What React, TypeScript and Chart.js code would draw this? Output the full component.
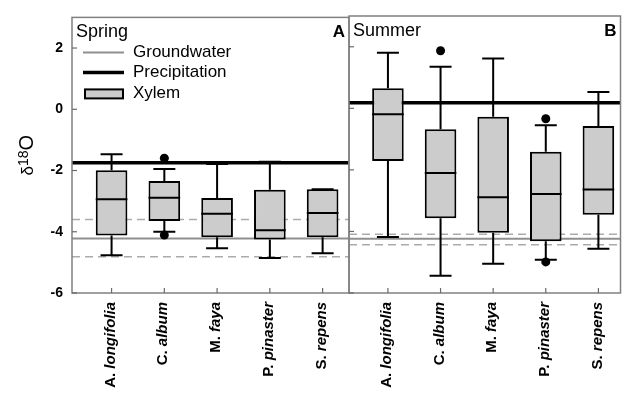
import React, { useEffect, useRef } from "react";
import { Chart, registerables } from "chart.js";

Chart.register(...registerables);

// ---------- data ----------
const categories = ["A. longifolia", "C. album", "M. faya", "P. pinaster", "S. repens"];
const yTickValues = [-6, -4, -2, 0, 2];
const legendLabels = ["Groundwater", "Precipitation", "Xylem"];
const yAxisLabel = ["δ", "18", "O"];

// Spring (panel A)
const springLow = [-4.77, -4.0, -4.54, -4.86, -4.7];
const springQ1 = [-4.12, -3.65, -4.18, -4.25, -4.18];
const springMedian = [-2.94, -2.89, -3.41, -3.95, -3.39];
const springQ3 = [-1.99, -2.34, -2.9, -2.63, -2.61];
const springHigh = [-1.47, -1.95, -1.79, -1.71, -2.61];
const springOutlierCat = [2, 2];
const springOutlierVal = [-1.6, -4.11];
const springGroundwater = -4.22;
const springGroundwaterRange = [-3.6, -4.82];
const springPrecipitation = -1.75;

// Summer (panel B)
const summerLow = [-4.18, -5.44, -5.05, -4.92, -4.56];
const summerQ1 = [-1.71, -3.57, -4.04, -4.32, -3.46];
const summerMedian = [-0.19, -2.1, -2.89, -2.78, -2.64];
const summerQ3 = [0.65, -0.68, -0.27, -1.41, -0.57];
const summerHigh = [1.81, 1.35, 1.62, -0.55, 0.53];
const summerOutlierCat = [2, 4, 4];
const summerOutlierVal = [1.87, -0.34, -4.99];
const summerGroundwater = -4.24;
const summerGroundwaterRange = [-4.09, -4.43];
const summerPrecipitation = 0.18;

const FONT = "'Liberation Sans', Arial, Helvetica, sans-serif";

type Season = {
  title: string;
  letter: string;
  low: number[];
  q1: number[];
  med: number[];
  q3: number[];
  high: number[];
  outCat: number[];
  outVal: number[];
  gw: number;
  gwRange: number[];
  precip: number;
  xMin: number;
  xMax: number;
  padding: { left: number; right: number; top: number; bottom: number };
  first: boolean;
};

const spring: Season = {
  title: "Spring",
  letter: "A",
  low: springLow,
  q1: springQ1,
  med: springMedian,
  q3: springQ3,
  high: springHigh,
  outCat: springOutlierCat,
  outVal: springOutlierVal,
  gw: springGroundwater,
  gwRange: springGroundwaterRange,
  precip: springPrecipitation,
  xMin: 0.25,
  xMax: 5.5,
  padding: { left: 0, right: 276, top: 16, bottom: 103 },
  first: true,
};

const summer: Season = {
  title: "Summer",
  letter: "B",
  low: summerLow,
  q1: summerQ1,
  med: summerMedian,
  q3: summerQ3,
  high: summerHigh,
  outCat: summerOutlierCat,
  outVal: summerOutlierVal,
  gw: summerGroundwater,
  gwRange: summerGroundwaterRange,
  precip: summerPrecipitation,
  xMin: 0.26,
  xMax: 5.42,
  padding: { left: 349, right: 2, top: 16, bottom: 103 },
  first: false,
};

function hline(ctx: CanvasRenderingContext2D, x1: number, x2: number, y: number) {
  ctx.beginPath();
  ctx.moveTo(x1, y);
  ctx.lineTo(x2, y);
  ctx.stroke();
}

function makePlugin(s: Season) {
  return {
    id: "boxplot" + s.letter,
    beforeDatasetsDraw(chart: any) {
      const { ctx, chartArea: a, scales } = chart;
      const y = scales.y;
      ctx.save();
      ctx.beginPath();
      ctx.rect(a.left, a.top, a.right - a.left, a.bottom - a.top);
      ctx.clip();
      ctx.strokeStyle = "#ababab";
      ctx.lineWidth = 1.5;
      ctx.setLineDash([8, 5]);
      for (const v of s.gwRange) hline(ctx, a.left, a.right, y.getPixelForValue(v));
      ctx.setLineDash([]);
      ctx.strokeStyle = "#8f8f8f";
      ctx.lineWidth = 2;
      hline(ctx, a.left, a.right, y.getPixelForValue(s.gw));
      ctx.strokeStyle = "#000";
      ctx.lineWidth = 3.5;
      hline(ctx, a.left, a.right, y.getPixelForValue(s.precip));
      ctx.restore();
    },
    afterDatasetsDraw(chart: any) {
      const { ctx } = chart;
      const y = chart.scales.y;
      const meta = chart.getDatasetMeta(0);
      ctx.save();
      ctx.strokeStyle = "#000";
      ctx.lineWidth = 2;
      meta.data.forEach((el: any, i: number) => {
        const cx = el.x;
        const hw = el.width / 2;
        const cap = 11;
        const pHigh = y.getPixelForValue(s.high[i]);
        const pQ3 = y.getPixelForValue(s.q3[i]);
        const pQ1 = y.getPixelForValue(s.q1[i]);
        const pLow = y.getPixelForValue(s.low[i]);
        const pMed = y.getPixelForValue(s.med[i]);
        ctx.beginPath();
        ctx.moveTo(cx, pQ3);
        ctx.lineTo(cx, pHigh);
        ctx.moveTo(cx - cap, pHigh);
        ctx.lineTo(cx + cap, pHigh);
        ctx.moveTo(cx, pQ1);
        ctx.lineTo(cx, pLow);
        ctx.moveTo(cx - cap, pLow);
        ctx.lineTo(cx + cap, pLow);
        ctx.moveTo(cx - hw, pMed);
        ctx.lineTo(cx + hw, pMed);
        ctx.stroke();
      });
      ctx.restore();
    },
    afterDraw(chart: any) {
      const { ctx, chartArea: a } = chart;
      const x = chart.scales.x;
      const y = chart.scales.y;
      ctx.save();
      // frame
      ctx.strokeStyle = "#808080";
      ctx.lineWidth = 1.5;
      ctx.strokeRect(a.left, a.top, a.right - a.left, a.bottom - a.top);
      // ticks (inward)
      ctx.strokeStyle = "#6a6a6a";
      ctx.lineWidth = 1.2;
      for (const v of yTickValues) {
        const py = y.getPixelForValue(v);
        hline(ctx, a.left, a.left + 5, py);
      }
      categories.forEach((_, i) => {
        const px = x.getPixelForValue(i + 1);
        ctx.beginPath();
        ctx.moveTo(px, a.bottom);
        ctx.lineTo(px, a.bottom - 5);
        ctx.stroke();
      });
      // category labels (rotated, mixed style)
      ctx.fillStyle = "#000";
      ctx.textBaseline = "middle";
      ctx.textAlign = "left";
      categories.forEach((c, i) => {
        const px = x.getPixelForValue(i + 1);
        const dot = c.indexOf(". ");
        const pre = c.slice(0, dot + 1) + " ";
        const post = c.slice(dot + 2);
        ctx.font = `bold 15px ${FONT}`;
        const wPre = ctx.measureText(pre).width;
        ctx.font = `italic bold 15px ${FONT}`;
        const wPost = ctx.measureText(post).width;
        const total = wPre + wPost;
        ctx.save();
        ctx.translate(px - 1, a.bottom + 9);
        ctx.rotate(-Math.PI / 2);
        ctx.font = `bold 15px ${FONT}`;
        ctx.fillText(pre, -total, 0);
        ctx.font = `italic bold 15px ${FONT}`;
        ctx.fillText(post, -total + wPre, 0);
        ctx.restore();
      });
      // panel titles
      ctx.textBaseline = "alphabetic";
      ctx.font = `18px ${FONT}`;
      ctx.textAlign = "left";
      ctx.fillText(s.title, a.left + 4, a.top + 20);
      ctx.font = `bold 17px ${FONT}`;
      ctx.textAlign = "right";
      ctx.fillText(s.letter, a.right - 4, a.top + 20);

      if (s.first) {
        // legend
        ctx.textAlign = "left";
        ctx.textBaseline = "middle";
        ctx.font = `17px ${FONT}`;
        const lx1 = a.left + 11;
        const lx2 = a.left + 52;
        const tx = a.left + 61;
        const rows = [a.top + 35, a.top + 55, a.top + 76];
        ctx.strokeStyle = "#8f8f8f";
        ctx.lineWidth = 2;
        hline(ctx, lx1, lx2, rows[0]);
        ctx.strokeStyle = "#000";
        ctx.lineWidth = 3.5;
        hline(ctx, lx1, lx2, rows[1]);
        ctx.fillStyle = "#cccccc";
        ctx.fillRect(lx1 + 2, rows[2] - 4, lx2 - lx1 - 3, 9);
        ctx.lineWidth = 2;
        ctx.strokeRect(lx1 + 2, rows[2] - 4, lx2 - lx1 - 3, 9);
        ctx.fillStyle = "#000";
        legendLabels.forEach((t, i) => ctx.fillText(t, tx, rows[i]));

        // y-axis title δ18O
        ctx.save();
        ctx.translate(33, (a.top + a.bottom) / 2);
        ctx.rotate(-Math.PI / 2);
        ctx.textBaseline = "alphabetic";
        ctx.textAlign = "left";
        const fonts = [`17px ${FONT}`, `14px ${FONT}`, `20px ${FONT}`];
        const rise = [0, -5, 0];
        const widths = yAxisLabel.map((t, i) => {
          ctx.font = fonts[i];
          return ctx.measureText(t).width;
        });
        let cur = -widths.reduce((p, q) => p + q, 0) / 2;
        yAxisLabel.forEach((t, i) => {
          ctx.font = fonts[i];
          ctx.fillText(t, cur, rise[i]);
          cur += widths[i];
        });
        ctx.restore();
      }
      ctx.restore();
    },
  };
}

function SeasonChart({ s }: { s: Season }) {
  const ref = useRef<HTMLCanvasElement | null>(null);
  useEffect(() => {
    if (!ref.current) return;
    const chart = new Chart(ref.current, {
      type: "bar",
      data: {
        datasets: [
          {
            type: "bar",
            data: categories.map((_, i) => ({ x: i + 1, y: [s.q1[i], s.q3[i]] })) as any,
            backgroundColor: "#cccccc",
            borderColor: "#000",
            borderWidth: 2,
            borderSkipped: false,
            barPercentage: 0.6,
            categoryPercentage: 1,
          } as any,
          {
            type: "scatter",
            data: s.outCat.map((c, i) => ({ x: c, y: s.outVal[i] })),
            backgroundColor: "#000",
            borderWidth: 0,
            pointRadius: 4.5,
          } as any,
        ],
      },
      options: {
        responsive: false,
        animation: false,
        devicePixelRatio: 1,
        layout: { padding: s.padding },
        plugins: { legend: { display: false }, tooltip: { enabled: false } },
        scales: {
          x: {
            type: "linear",
            min: s.xMin,
            max: s.xMax,
            offset: false,
            display: false,
          },
          y: {
            type: "linear",
            min: -6,
            max: 3,
            display: s.first,
            grid: { display: false, drawTicks: false },
            border: { display: false },
            ticks: {
              stepSize: 2,
              includeBounds: false,
              color: "#000",
              padding: 9,
              font: { family: FONT, size: 14, weight: "bold" },
            },
            afterFit: (scale: any) => {
              if (s.first) scale.width = 72;
            },
          } as any,
        },
      },
      plugins: [makePlugin(s)],
    } as any);
    return () => chart.destroy();
  }, [s]);
  return (
    <canvas
      ref={ref}
      width={625}
      height={396}
      style={{ position: "absolute", left: 0, top: 0, width: 625, height: 396 }}
    />
  );
}

export default function App() {
  return (
    <div
      style={{
        position: "fixed",
        left: 0,
        top: 0,
        width: 625,
        height: 396,
        background: "#fff",
        overflow: "hidden",
      }}
    >
      <SeasonChart s={spring} />
      <SeasonChart s={summer} />
    </div>
  );
}
